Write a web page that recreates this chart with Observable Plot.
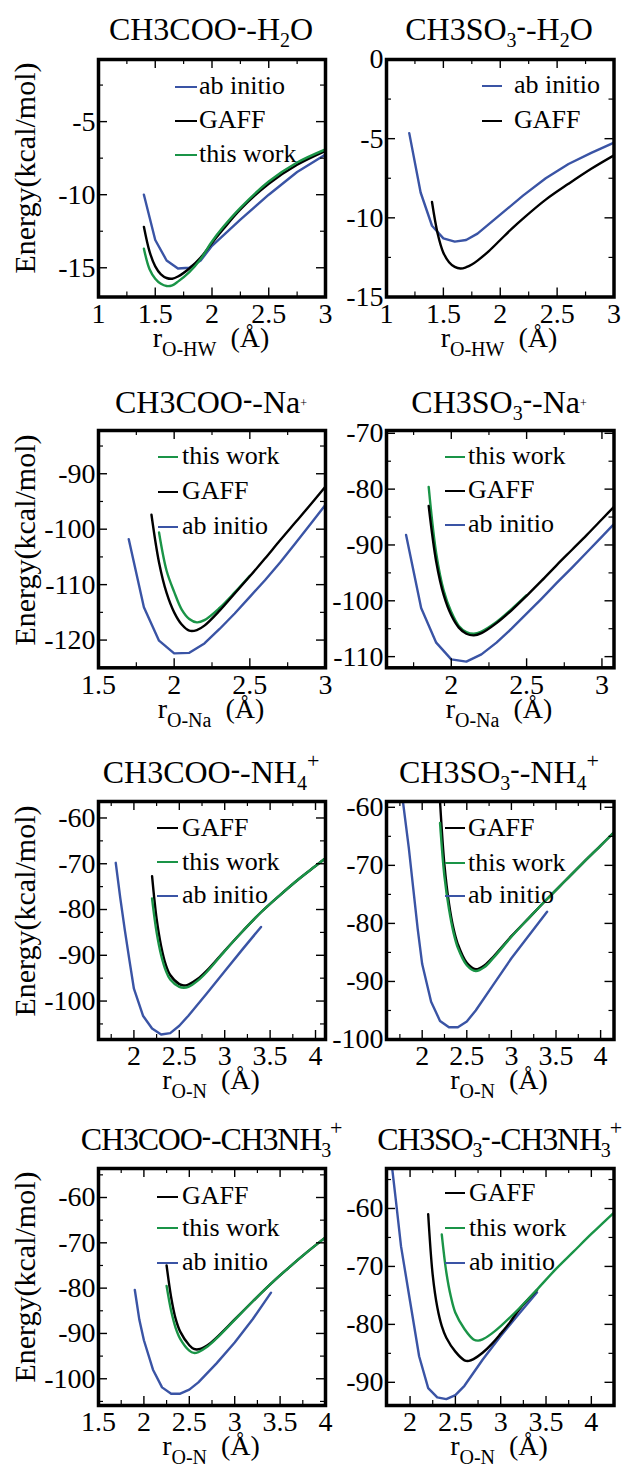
<!DOCTYPE html>
<html><head><meta charset="utf-8">
<script src="https://cdn.jsdelivr.net/npm/d3@7"></script>
<script src="https://cdn.jsdelivr.net/npm/@observablehq/plot@0.6"></script>
<style>
body{margin:0;background:#fff;}
#root{position:relative;width:627px;height:1472px;overflow:hidden;background:#fff;font-family:'Liberation Serif','Tinos','Times New Roman',serif;color:#000;}
.abs{position:absolute;white-space:nowrap;}
.title{font-size:32px;line-height:32px;transform:translateX(-50%);}
.tight{letter-spacing:-1.2px;}
.xl{font-size:28px;line-height:18px;transform:translateX(-50%);}
.yl{font-size:30px;line-height:30px;transform:translate(-50%,-50%) rotate(-90deg);}
.lg{font-size:26px;line-height:26px;}
.sb{font-size:20px;position:relative;top:7px;}
.sm{font-size:28px;font-weight:bold;position:relative;top:-5px;letter-spacing:0;}
.sp{font-size:22px;position:relative;top:-15px;}
.tp{font-size:12px;position:relative;top:-6px;}
.xs{font-size:20px;position:relative;top:9px;margin-right:14px;}
</style></head>
<body><div id="root"></div>
<script>
// ---------------- DATA ----------------
// Panel 1: CH3COO- - H2O
const p1AbX = [1.4,1.5,1.6,1.7,1.8,1.9,2.0,2.25,2.5,2.75,3.0];
const p1AbY = [-10.0,-13.1,-14.5,-15.05,-15.0,-14.5,-13.5,-11.7,-10.0,-8.45,-7.25];
const p1GaffX = [1.4,1.45,1.5,1.55,1.6,1.65,1.7,1.8,1.9,2.0,2.1,2.25,2.5,2.75,3.0];
const p1GaffY = [-12.2,-13.9,-14.9,-15.45,-15.7,-15.75,-15.6,-15.05,-14.3,-13.3,-12.35,-11.0,-9.25,-7.95,-7.0];
const p1ThisX = [1.4,1.45,1.5,1.55,1.6,1.65,1.7,1.8,1.9,2.0,2.1,2.25,2.5,2.75,3.0];
const p1ThisY = [-13.7,-15.1,-15.75,-16.1,-16.25,-16.2,-15.95,-15.3,-14.4,-13.2,-12.2,-10.9,-9.1,-7.8,-6.9];
// Panel 2: CH3SO3- - H2O
const p2AbX = [1.2,1.3,1.4,1.5,1.6,1.7,1.8,1.9,2.0,2.2,2.4,2.6,2.8,3.0];
const p2AbY = [-4.65,-8.4,-10.5,-11.3,-11.5,-11.4,-11.0,-10.4,-9.8,-8.6,-7.5,-6.6,-5.9,-5.25];
const p2GaffX = [1.4,1.45,1.5,1.55,1.6,1.65,1.7,1.75,1.8,1.9,2.0,2.1,2.2,2.4,2.6,2.8,3.0];
const p2GaffY = [-9.0,-11.0,-12.2,-12.8,-13.1,-13.2,-13.12,-12.95,-12.7,-12.1,-11.4,-10.7,-10.05,-8.85,-7.85,-6.9,-6.05];
// Panel 3: CH3COO- - Na+
const p3AbX = [1.7,1.8,1.9,2.0,2.1,2.2,2.3,2.4,2.5,2.6,2.7,2.8,2.9,3.0];
const p3AbY = [-101.8,-114.1,-120.1,-122.4,-122.3,-120.6,-118.0,-115.2,-112.2,-109.2,-106.0,-102.6,-99.1,-95.6];
const p3GaffX = [1.85,1.9,1.95,2.0,2.05,2.1,2.15,2.2,2.3,2.4,2.5,2.6,2.7,2.8,2.9,3.0];
const p3GaffY = [-97.4,-106.0,-111.5,-115.0,-117.2,-118.3,-118.2,-117.4,-114.7,-111.6,-108.5,-105.3,-102.0,-98.8,-95.6,-92.3];
const p3ThisX = [1.9,1.95,2.0,2.05,2.1,2.15,2.2,2.3,2.4,2.5];
const p3ThisY = [-100.6,-107.5,-111.3,-114.5,-116.2,-116.8,-116.4,-114.2,-111.4,-108.4];
// Panel 4: CH3SO3- - Na+
const p4AbX = [1.7,1.8,1.9,2.0,2.1,2.2,2.3,2.4,2.5,2.6,2.7,2.8,2.9,3.0,3.1];
const p4AbY = [-88.2,-101.3,-107.5,-110.5,-110.9,-109.6,-107.5,-105.0,-102.3,-99.6,-96.8,-94.1,-91.3,-88.5,-85.7];
const p4GaffX = [1.85,1.9,1.95,2.0,2.05,2.1,2.15,2.2,2.3,2.4,2.5,2.6,2.7,2.8,2.9,3.0,3.1];
const p4GaffY = [-83.0,-93.0,-99.0,-102.6,-104.8,-105.9,-106.2,-105.8,-104.0,-101.7,-99.1,-96.4,-93.6,-90.9,-88.2,-85.4,-82.6];
const p4ThisX = [1.85,1.9,1.95,2.0,2.05,2.1,2.15,2.2,2.3,2.4,2.5];
const p4ThisY = [-79.6,-91.5,-98.2,-102.0,-104.5,-105.6,-105.9,-105.5,-103.8,-101.5,-99.0];
// Panel 5: CH3COO- - NH4+
const p5AbX = [1.8,1.85,1.9,1.95,2.0,2.1,2.2,2.3,2.4,2.5,2.6,2.8,3.0,3.2,3.4];
const p5AbY = [-69.8,-77.5,-84.5,-91.0,-97.3,-103.2,-106.0,-107.3,-107.0,-105.4,-103.2,-98.4,-93.5,-88.6,-83.8];
const p5GaffX = [2.2,2.25,2.3,2.35,2.4,2.5,2.55,2.6,2.7,2.8,3.0,3.2,3.4,3.6,3.8,4.0,4.11];
const p5GaffY = [-72.7,-82.0,-88.0,-92.0,-94.3,-96.3,-96.6,-96.4,-95.2,-93.4,-89.0,-84.7,-80.6,-77.0,-73.6,-70.5,-68.8];
const p5ThisX = [2.2,2.25,2.3,2.35,2.4,2.5,2.55,2.6,2.7,2.8,3.0,3.2,3.4,3.6,3.8,4.0,4.11];
const p5ThisY = [-77.6,-85.0,-90.0,-93.3,-95.3,-96.9,-97.1,-96.9,-95.6,-93.7,-89.1,-84.7,-80.6,-77.0,-73.6,-70.5,-68.8];
// Panel 6: CH3SO3- - NH4+
const p6AbX = [1.78,1.85,1.9,1.95,2.0,2.1,2.2,2.3,2.4,2.5,2.6,2.8,3.0,3.2,3.4];
const p6AbY = [-58.5,-67.0,-74.0,-81.0,-87.0,-93.5,-96.8,-97.9,-97.9,-96.9,-95.0,-90.5,-86.0,-82.0,-78.0];
const p6GaffX = [2.2,2.25,2.3,2.35,2.4,2.5,2.6,2.7,2.8,3.0,3.2,3.4,3.6,3.8,4.0,4.15];
const p6GaffY = [-59.0,-70.0,-76.5,-80.8,-83.6,-86.8,-87.9,-87.2,-85.7,-82.2,-79.0,-75.8,-72.7,-69.6,-66.6,-64.3];
const p6ThisX = [2.2,2.25,2.3,2.35,2.4,2.5,2.6,2.7,2.8,3.0,3.2,3.4,3.6,3.8,4.0,4.15];
const p6ThisY = [-62.7,-72.0,-77.5,-81.5,-84.2,-87.2,-88.2,-87.5,-85.9,-82.3,-79.0,-75.8,-72.7,-69.6,-66.6,-64.3];
// Panel 7: CH3COO- - CH3NH3+
const p7AbX = [1.9,1.95,2.0,2.1,2.2,2.3,2.4,2.5,2.6,2.8,3.0,3.2,3.4];
const p7AbY = [-80.4,-87.0,-91.5,-98.0,-101.9,-103.3,-103.3,-102.4,-100.8,-96.6,-92.0,-86.8,-81.0];
const p7GaffX = [2.25,2.3,2.35,2.4,2.5,2.55,2.6,2.7,2.8,3.0,3.2,3.4,3.6,3.8,4.0];
const p7GaffY = [-75.0,-82.0,-86.8,-89.6,-92.6,-93.4,-93.5,-92.6,-90.9,-86.9,-82.9,-79.0,-75.4,-72.0,-68.8];
const p7ThisX = [2.25,2.3,2.35,2.4,2.5,2.55,2.6,2.7,2.8,3.0,3.2,3.4,3.6,3.8,4.0];
const p7ThisY = [-79.5,-85.0,-88.8,-91.2,-93.8,-94.3,-94.1,-92.9,-91.1,-87.0,-82.9,-79.0,-75.4,-72.0,-68.8];
// Panel 8: CH3SO3- - CH3NH3+
const p8AbX = [1.78,1.85,1.9,2.0,2.1,2.2,2.3,2.4,2.5,2.6,2.8,3.0,3.2,3.4];
const p8AbY = [-50.0,-59.5,-66.5,-76.0,-85.5,-91.0,-92.6,-92.9,-92.2,-90.6,-86.1,-82.0,-78.2,-74.5];
const p8GaffX = [2.2,2.25,2.3,2.35,2.4,2.5,2.6,2.65,2.7,2.8,2.9,3.0,3.1,3.2,3.4];
const p8GaffY = [-61.0,-71.5,-77.0,-80.3,-82.3,-84.7,-86.2,-86.3,-86.0,-84.9,-83.4,-81.6,-79.7,-77.5,-74.1];
const p8ThisX = [2.35,2.4,2.45,2.5,2.6,2.7,2.75,2.8,2.9,3.0,3.2,3.4,3.6,3.8,4.0,4.25];
const p8ThisY = [-64.5,-71.0,-75.2,-78.0,-80.8,-82.6,-82.8,-82.6,-81.6,-80.3,-77.3,-74.0,-70.6,-67.5,-64.4,-60.7];

// Tick values
const xTicksA = [1,1.5,2,2.5,3], xMinorA = [1.25,1.75,2.25,2.75];
const xTicksB = [1.5,2,2.5,3], xMinorB = [1.75,2.25,2.75];
const xTicksC = [2,2.5,3], xMinorC = [1.75,2.25,2.75];
const xTicksD = [2,2.5,3,3.5,4], xMinorD = [1.75,2.25,2.75,3.25,3.75];
const xTicksE = [1.5,2,2.5,3,3.5,4], xMinorE = [1.75,2.25,2.75,3.25,3.75];
const y1Ticks = [-5,-10,-15], y1Minor = [-2.5,-7.5,-12.5];
const y2Ticks = [0,-5,-10,-15], y2Minor = [-2.5,-7.5,-12.5];
const y3Ticks = [-90,-100,-110,-120], y3Minor = [-85,-95,-105,-115];
const y4Ticks = [-70,-80,-90,-100,-110], y4Minor = [-75,-85,-95,-105];
const y5Ticks = [-60,-70,-80,-90,-100], y5Minor = [-65,-75,-85,-95,-105];
const y6Ticks = [-60,-70,-80,-90,-100], y6Minor = [-65,-75,-85,-95];
const y7Ticks = [-60,-70,-80,-90,-100], y7Minor = [-55,-65,-75,-85,-95,-105];
const y8Ticks = [-60,-70,-80,-90], y8Minor = [-55,-65,-75,-85];

// Titles
const titles = [
  "CH3COO<span class=sm>-</span>-H<span class=sb>2</span>O",
  "CH3SO<span class=sb>3</span><span class=sm>-</span>-H<span class=sb>2</span>O",
  "CH3COO<span class=sm>-</span>-Na<span class=tp>+</span>",
  "CH3SO<span class=sb>3</span><span class=sm>-</span>-Na<span class=tp>+</span>",
  "CH3COO<span class=sm>-</span>-NH<span class=sb>4</span><span class=sp>+</span>",
  "CH3SO<span class=sb>3</span><span class=sm>-</span>-NH<span class=sb>4</span><span class=sp>+</span>",
  "CH3COO<span class=sm>-</span>-CH3NH<span class=sb>3</span><span class=sp>+</span>",
  "CH3SO<span class=sb>3</span><span class=sm>-</span>-CH3NH<span class=sb>3</span><span class=sp>+</span>"
];
const xSubs = ["O-HW","O-HW","O-Na","O-Na","O-N","O-N","O-N","O-N"];
const yLabel = "Energy(kcal/mol)";
const legendA = ["ab initio","GAFF","this work"];
const legendB = ["ab initio","GAFF"];
const legendC = ["this work","GAFF","ab initio"];
const legendD = ["GAFF","this work","ab initio"];

// ---------------- STYLE / LAYOUT ----------------
const BLUE = "#3a54a5", GREEN = "#1a9447", BLACK = "#000000";
const colorOf = {"ab initio": BLUE, "GAFF": BLACK, "this work": GREEN};
const FONT = "'Liberation Serif','Tinos','Times New Roman',serif";
const cols = [{L:97.5, R:324.5, cx:211}, {L:386, R:613.5, cx:499}];
const rows = [
  {T:58.5, B:296, title:40, xl:347},
  {T:430, B:667.3, title:413, xl:718},
  {T:801, B:1039, title:783, xl:1089},
  {T:1167.5, B:1404.5, title:1150, xl:1455}
];
const pts = (xs, ys) => xs.map((x, i) => ({x, y: ys[i]}));

const panels = [
  {col:0,row:0,xd:[1,3],yd:[-17,-0.75],xt:xTicksA,xm:xMinorA,yt:y1Ticks,ym:y1Minor,
   series:[[p1AbX,p1AbY,"ab initio"],[p1GaffX,p1GaffY,"GAFF"],[p1ThisX,p1ThisY,"this work"]],
   legend:legendA, ly:[86.7,120.7,155], lx:[175,197], tx:199},
  {col:1,row:0,xd:[1,3],yd:[-15,0],xt:xTicksA,xm:xMinorA,yt:y2Ticks,ym:y2Minor,
   series:[[p2AbX,p2AbY,"ab initio"],[p2GaffX,p2GaffY,"GAFF"]],
   legend:legendB, ly:[86,121], lx:[482,502], tx:514},
  {col:0,row:1,xd:[1.5,3],yd:[-125,-82.2],xt:xTicksB,xm:xMinorB,yt:y3Ticks,ym:y3Minor,
   series:[[p3AbX,p3AbY,"ab initio"],[p3ThisX,p3ThisY,"this work"],[p3GaffX,p3GaffY,"GAFF"]],
   legend:legendC, ly:[456.7,491.7,526.7], lx:[158,178], tx:182},
  {col:1,row:1,xd:[1.57,3.08],yd:[-112,-69.5],xt:xTicksC,xm:xMinorC,yt:y4Ticks,ym:y4Minor,
   series:[[p4AbX,p4AbY,"ab initio"],[p4ThisX,p4ThisY,"this work"],[p4GaffX,p4GaffY,"GAFF"]],
   legend:legendC, ly:[457,490.7,525], lx:[445,465], tx:468},
  {col:0,row:2,xd:[1.61,4.11],yd:[-108.4,-56.4],xt:xTicksD,xm:xMinorD,yt:y5Ticks,ym:y5Minor,
   series:[[p5AbX,p5AbY,"ab initio"],[p5GaffX,p5GaffY,"GAFF"],[p5ThisX,p5ThisY,"this work"]],
   legend:legendD, ly:[828.3,862.3,895.7], lx:[157,178], tx:182},
  {col:1,row:2,xd:[1.6,4.15],yd:[-100,-59],xt:xTicksD,xm:xMinorD,yt:y6Ticks,ym:y6Minor,
   series:[[p6AbX,p6AbY,"ab initio"],[p6GaffX,p6GaffY,"GAFF"],[p6ThisX,p6ThisY,"this work"]],
   legend:legendD, ly:[828.3,863.3,895.7], lx:[445,465], tx:468},
  {col:0,row:3,xd:[1.5,4.0],yd:[-105.9,-53.6],xt:xTicksE,xm:xMinorE,yt:y7Ticks,ym:y7Minor,tight:true,
   series:[[p7AbX,p7AbY,"ab initio"],[p7GaffX,p7GaffY,"GAFF"],[p7ThisX,p7ThisY,"this work"]],
   legend:legendD, ly:[1196.7,1228.3,1262.7], lx:[157,178], tx:182},
  {col:1,row:3,xd:[1.74,4.25],yd:[-94,-53.1],xt:xTicksD,xm:xMinorD,yt:y8Ticks,ym:y8Minor,tight:true,
   series:[[p8AbX,p8AbY,"ab initio"],[p8GaffX,p8GaffY,"GAFF"],[p8ThisX,p8ThisY,"this work"]],
   legend:legendD, ly:[1193.3,1228.3,1262.7], lx:[445,465], tx:469}
];

const root = document.getElementById("root");
function addDiv(cls, html, left, top, extra) {
  const d = document.createElement("div");
  d.className = "abs " + cls;
  d.innerHTML = html;
  d.style.left = left + "px";
  d.style.top = top + "px";
  if (extra) Object.assign(d.style, extra);
  root.appendChild(d);
  return d;
}

panels.forEach((p, i) => {
  const c = cols[p.col], r = rows[p.row];
  const fw = c.R - c.L, fh = r.B - r.T;
  const mL = 64, mR = 16, mT = 14, mB = 40;
  const fmt = d => String(d);
  const marks = [];
  p.series.forEach(([xs, ys, name]) => {
    marks.push(Plot.line(pts(xs, ys), {x:"x", y:"y", stroke: colorOf[name], strokeWidth: 2.4,
      curve: name === "ab initio" ? "linear" : "catmull-rom", clip: true}));
  });
  marks.push(
    Plot.tickX(p.xt, {x: d => d, insetTop: fh - 9, strokeWidth: 1.4}),
    Plot.tickX(p.xt, {x: d => d, insetBottom: fh - 9, strokeWidth: 1.4}),
    Plot.tickX(p.xm, {x: d => d, insetTop: fh - 5, strokeWidth: 1.2}),
    Plot.tickX(p.xm, {x: d => d, insetBottom: fh - 5, strokeWidth: 1.2}),
    Plot.tickY(p.yt, {y: d => d, insetRight: fw - 9, strokeWidth: 1.4}),
    Plot.tickY(p.yt, {y: d => d, insetLeft: fw - 9, strokeWidth: 1.4}),
    Plot.tickY(p.ym, {y: d => d, insetRight: fw - 5, strokeWidth: 1.2}),
    Plot.tickY(p.ym, {y: d => d, insetLeft: fw - 5, strokeWidth: 1.2}),
    Plot.axisX(p.xt, {anchor: "bottom", tickSize: 0, tickPadding: 6, tickFormat: fmt, label: null, fontSize: 28}),
    Plot.axisY(p.yt, {anchor: "left", tickSize: 0, tickPadding: 3, tickFormat: fmt, label: null, fontSize: 28}),
    Plot.frame({strokeWidth: 3.5})
  );
  const svg = Plot.plot({
    width: mL + fw + mR, height: mT + fh + mB,
    marginLeft: mL, marginRight: mR, marginTop: mT, marginBottom: mB,
    x: {domain: p.xd}, y: {domain: p.yd},
    style: {background: "transparent", overflow: "visible", fontFamily: FONT, fontSize: "28px", color: "#000"},
    marks
  });
  svg.style.position = "absolute";
  svg.style.left = (c.L - mL) + "px";
  svg.style.top = (r.T - mT) + "px";
  root.appendChild(svg);

  addDiv("title" + (p.tight ? " tight" : ""), titles[i], c.cx, r.title - 0.8375 * 32);
  // x label: line-height 18px -> baseline sits 18.45px below the box top
  addDiv("xl", "r<span class=xs>" + xSubs[i] + "</span>(Å)", c.cx, r.xl - 18.45);
  if (p.col === 0) addDiv("yl", yLabel, 25, (r.T + r.B) / 2 - 9);
  p.legend.forEach((name, k) => {
    const y = p.ly[k];
    addDiv("", "", p.lx[0], y - 1.2, {width: (p.lx[1] - p.lx[0]) + "px", height: "2.4px", background: colorOf[name]});
    addDiv("lg", name, p.tx, y + 8 - 0.8375 * 26);
  });
});
</script>
</body></html>
